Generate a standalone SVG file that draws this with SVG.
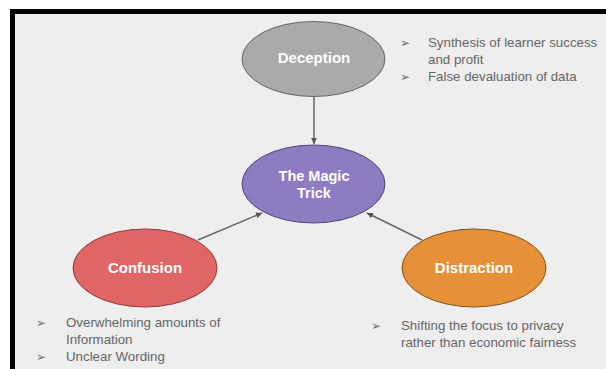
<svg xmlns="http://www.w3.org/2000/svg" width="606" height="369" viewBox="0 0 606 369">
<style>
.lbl{font-family:"Liberation Sans",Arial,sans-serif;font-weight:bold;font-size:15px;fill:#ffffff;text-anchor:middle}
.txt{font-family:"Liberation Sans",Arial,sans-serif;font-size:13.3px;fill:#666666}
.bul{font-family:"DejaVu Sans",sans-serif;font-size:12px;fill:#707070}
.conn{stroke:#666666;stroke-width:1.5;fill:none;marker-end:url(#ah)}
</style>
<defs>
<marker id="ah" viewBox="0 0 10 10" refX="10" refY="5" markerWidth="6" markerHeight="6" markerUnits="userSpaceOnUse" orient="auto">
<path d="M0,0 L10,5 L0,10 z" fill="#555555"/>
</marker>
</defs>
<rect x="0" y="0" width="606" height="369" fill="#ffffff"/>
<rect x="10" y="9" width="596" height="360" fill="#eeeeee"/>
<path d="M12.5,369 V11.5 H606" fill="none" stroke="#000000" stroke-width="5"/>
<g id="connectors">
<line class="conn" x1="314" y1="97" x2="314" y2="144"/>
<line class="conn" x1="198" y1="240" x2="262" y2="213"/>
<line class="conn" x1="422" y1="240" x2="367" y2="213"/>
</g>
<g id="deception">
<ellipse cx="313.5" cy="59" rx="71.5" ry="37.5" fill="#aaaaaa" stroke="#666666" stroke-width="1"/>
<text class="lbl" x="314" y="63">Deception</text>
</g>
<g id="magic-trick">
<ellipse cx="313.5" cy="184" rx="71.5" ry="39" fill="#8e7cc3" stroke="#4f447a" stroke-width="1"/>
<text class="lbl" x="314" y="181" style="font-size:14.5px">The Magic</text>
<text class="lbl" x="314" y="198" style="font-size:14.5px">Trick</text>
</g>
<g id="confusion">
<ellipse cx="145" cy="268" rx="72" ry="39" fill="#e06666" stroke="#8a3a3a" stroke-width="1"/>
<text class="lbl" x="145" y="273">Confusion</text>
</g>
<g id="distraction">
<ellipse cx="474" cy="268" rx="72" ry="39" fill="#e69138" stroke="#7f5217" stroke-width="1"/>
<text class="lbl" x="474" y="273">Distraction</text>
</g>
<g id="deception-notes">
<text class="bul" x="400" y="47">➢</text>
<text class="txt" x="428" y="47">Synthesis of learner success</text>
<text class="txt" x="428" y="64">and profit</text>
<text class="bul" x="400" y="81">➢</text>
<text class="txt" x="428" y="81">False devaluation of data</text>
</g>
<g id="confusion-notes">
<text class="bul" x="36" y="327">➢</text>
<text class="txt" x="66" y="327">Overwhelming amounts of</text>
<text class="txt" x="66" y="344">Information</text>
<text class="bul" x="36" y="361">➢</text>
<text class="txt" x="66" y="361">Unclear Wording</text>
</g>
<g id="distraction-notes">
<text class="bul" x="371" y="330">➢</text>
<text class="txt" x="401" y="330">Shifting the focus to privacy</text>
<text class="txt" x="401" y="347">rather than economic fairness</text>
</g>
</svg>
